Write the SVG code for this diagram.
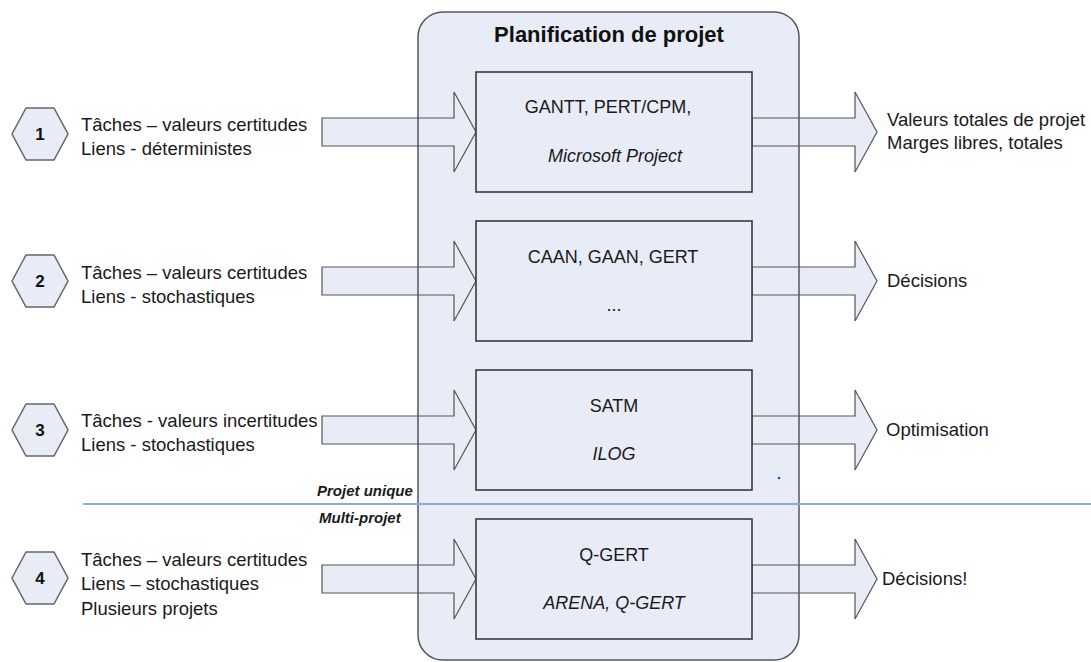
<svg xmlns="http://www.w3.org/2000/svg" width="1091" height="662" viewBox="0 0 1091 662">
<style>
  .lbl{font-family:"Liberation Sans",Arial,sans-serif;font-size:18.5px;fill:#1a1a1a}
  .btx{font-family:"Liberation Sans",Arial,sans-serif;font-size:18px;fill:#1a1a1a;text-anchor:middle}
  .it{font-style:italic}
  .num{font-family:"Liberation Sans",Arial,sans-serif;font-size:17px;font-weight:bold;fill:#111;text-anchor:middle}
  .hex{fill:#e8ecf7;stroke:#666;stroke-width:1.5}
  .box{fill:#e8ecf7;stroke:#3a3a3a;stroke-width:1.6}
  .arr{fill:#e8ecf7;stroke:#555;stroke-width:1.2;stroke-linejoin:miter}
  .sep{font-family:"Liberation Sans",Arial,sans-serif;font-size:15px;font-weight:bold;font-style:italic;fill:#1a1a1a}
</style>
<defs>
  <path id="inArrow" d="M322,-14 H454 V-40 L476,0 L454,40 V14 H322 Z"/>
  <path id="outArrow" d="M752,-14 H855 V-40 L877,0 L855,40 V14 H752 Z"/>
</defs>

<!-- panel background -->
<g id="panel">
  <rect x="418" y="12" width="381" height="648" rx="25" ry="25" fill="#e8ecf7" stroke="none"/>
</g>

<g id="connectors">
  <use href="#inArrow" class="arr" transform="translate(0,132)"/>
  <use href="#inArrow" class="arr" transform="translate(0,281)"/>
  <use href="#inArrow" class="arr" transform="translate(0,430)"/>
  <use href="#inArrow" class="arr" transform="translate(0,579)"/>
  <use href="#outArrow" class="arr" transform="translate(0,132)"/>
  <use href="#outArrow" class="arr" transform="translate(0,281)"/>
  <use href="#outArrow" class="arr" transform="translate(0,430)"/>
  <use href="#outArrow" class="arr" transform="translate(0,579)"/>
</g>

<g id="panel-outline">
  <rect x="418" y="12" width="381" height="648" rx="25" ry="25" fill="none" stroke="#555" stroke-width="1.5"/>
  <text x="609" y="42" font-family="Liberation Sans,Arial,sans-serif" font-size="22" font-weight="bold" fill="#111" text-anchor="middle">Planification de projet</text>
</g>

<g id="separator">
  <line x1="83" y1="504" x2="1091" y2="504" stroke="#8eaad8" stroke-width="2"/>
  <text class="sep" x="317" y="496">Projet unique</text>
  <text class="sep" x="319" y="523">Multi-projet</text>
  <circle cx="779" cy="478" r="1.3" fill="#3344dd"/>
</g>

<g id="input1">
  <polygon class="hex" points="12,134 26,108 54,108 68,134 54,160 26,160"/>
  <text class="num" x="40" y="140">1</text>
  <text class="lbl" x="81" y="131">Tâches – valeurs certitudes</text>
  <text class="lbl" x="81" y="155">Liens - déterministes</text>
</g>
<g id="input2">
  <polygon class="hex" points="12,281 26,255 54,255 68,281 54,307 26,307"/>
  <text class="num" x="40" y="287">2</text>
  <text class="lbl" x="81" y="279">Tâches – valeurs certitudes</text>
  <text class="lbl" x="81" y="303">Liens - stochastiques</text>
</g>
<g id="input3">
  <polygon class="hex" points="12,430 26,404 54,404 68,430 54,456 26,456"/>
  <text class="num" x="40" y="436">3</text>
  <text class="lbl" x="81" y="427">Tâches - valeurs incertitudes</text>
  <text class="lbl" x="81" y="451">Liens - stochastiques</text>
</g>
<g id="input4">
  <polygon class="hex" points="12,578 26,552 54,552 68,578 54,604 26,604"/>
  <text class="num" x="40" y="584">4</text>
  <text class="lbl" x="81" y="566">Tâches – valeurs certitudes</text>
  <text class="lbl" x="81" y="590">Liens – stochastiques</text>
  <text class="lbl" x="81" y="615">Plusieurs projets</text>
</g>

<g id="box1">
  <rect class="box" x="476" y="72" width="276" height="120"/>
  <text class="btx" x="608" y="113">GANTT, PERT/CPM,</text>
  <text class="btx it" x="615" y="162">Microsoft Project</text>
</g>
<g id="box2">
  <rect class="box" x="476" y="221" width="276" height="120"/>
  <text class="btx" x="613" y="263">CAAN, GAAN, GERT</text>
  <text class="btx" x="614" y="311" font-size="14">...</text>
</g>
<g id="box3">
  <rect class="box" x="476" y="370" width="276" height="120"/>
  <text class="btx" x="614" y="412">SATM</text>
  <text class="btx it" x="614" y="460">ILOG</text>
</g>
<g id="box4">
  <rect class="box" x="476" y="519" width="276" height="120"/>
  <text class="btx" x="614" y="561">Q-GERT</text>
  <text class="btx it" x="614" y="609">ARENA, Q-GERT</text>
</g>

<g id="output1">
  <text class="lbl" x="887" y="126">Valeurs totales de projet</text>
  <text class="lbl" x="887" y="149">Marges libres, totales</text>
</g>
<g id="output2">
  <text class="lbl" x="887" y="287">Décisions</text>
</g>
<g id="output3">
  <text class="lbl" x="886" y="436">Optimisation</text>
</g>
<g id="output4">
  <text class="lbl" x="882" y="585">Décisions!</text>
</g>
</svg>
